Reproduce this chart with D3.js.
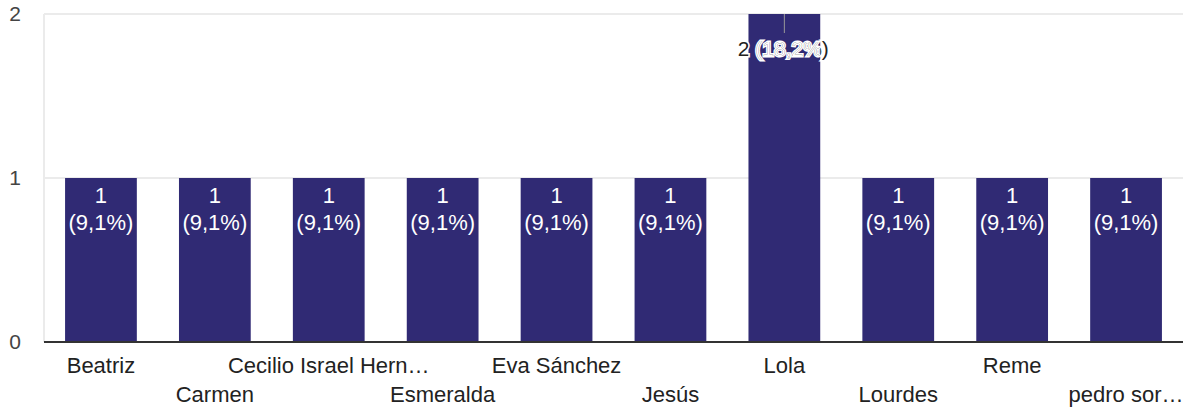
<!DOCTYPE html>
<html>
<head>
<meta charset="utf-8">
<script src="https://cdn.jsdelivr.net/npm/d3@7"></script>
<style>
  body { margin: 0; background: #fff; }
  svg { display: block; font-family: "Liberation Sans", Arial, sans-serif; }
</style>
</head>
<body>
<svg id="chart"></svg>
<script>
const names = ["Beatriz", "Carmen", "Cecilio Israel Hern…", "Esmeralda", "Eva Sánchez",
  "Jesús", "Lola", "Lourdes", "Reme", "pedro sor…"];
const counts = [1, 1, 1, 1, 1, 1, 2, 1, 1, 1];
const percents = ["9,1%", "9,1%", "9,1%", "9,1%", "9,1%", "9,1%", "18,2%", "9,1%", "9,1%", "9,1%"];
const yTicks = [0, 1, 2];

const width = 1187;
const height = 409;
const margin = { top: 14, right: 4, bottom: 67, left: 44 };
const barColor = "#302a74";

const svg = d3.select("#chart").attr("width", width).attr("height", height);

const x = d3.scaleBand()
  .domain(names)
  .range([margin.left, width - margin.right])
  .paddingInner(0.37)
  .paddingOuter(0.185);

const y = d3.scaleLinear()
  .domain([0, 2])
  .range([height - margin.bottom, margin.top]);

// grid
svg.append("g")
  .selectAll("line")
  .data(yTicks.filter(d => d > 0))
  .join("line")
  .attr("x1", margin.left).attr("x2", width - margin.right)
  .attr("y1", d => y(d)).attr("y2", d => y(d))
  .attr("stroke", "#ebebeb").attr("stroke-width", 2);

svg.append("line")
  .attr("x1", margin.left).attr("x2", margin.left)
  .attr("y1", y(2)).attr("y2", y(0))
  .attr("stroke", "#ebebeb").attr("stroke-width", 2);

// y labels
const yAxis = svg.append("g")
  .attr("transform", `translate(${margin.left - 29},0)`)
  .call(d3.axisLeft(y).tickValues(yTicks).tickSize(0).tickPadding(0).tickFormat(d3.format("d")));
yAxis.select(".domain").remove();
yAxis.selectAll("text")
  .attr("text-anchor", "middle")
  .attr("font-size", 21)
  .attr("font-family", "Liberation Sans, Arial, sans-serif")
  .attr("fill", "#444");

// bars
const data = names.map((n, i) => ({ name: n, count: counts[i], pct: percents[i] }));

svg.append("g")
  .selectAll("rect")
  .data(data)
  .join("rect")
  .attr("x", d => x(d.name))
  .attr("y", d => y(d.count))
  .attr("width", x.bandwidth())
  .attr("height", d => y(0) - y(d.count))
  .attr("fill", barColor);

// baseline
svg.append("line")
  .attr("x1", margin.left).attr("x2", width - margin.right)
  .attr("y1", y(0)).attr("y2", y(0))
  .attr("stroke", "#333").attr("stroke-width", 2);

// labels inside the short bars
const inside = svg.append("g").attr("font-size", 22).attr("fill", "#fff").attr("text-anchor", "middle");
data.filter(d => d.count < 2).forEach(d => {
  const cx = x(d.name) + x.bandwidth() / 2;
  const t = inside.append("text").attr("x", cx).attr("y", y(d.count) + 25);
  t.append("tspan").attr("x", cx).text(d.count);
  t.append("tspan").attr("x", cx).attr("dy", 27).text(`(${d.pct})`);
});

// the tall bar: label does not fit, drawn with halo + leader line
data.filter(d => d.count >= 2).forEach(d => {
  const cx = x(d.name) + x.bandwidth() / 2;
  svg.append("line")
    .attr("x1", cx).attr("x2", cx)
    .attr("y1", y(d.count)).attr("y2", y(d.count) + 19)
    .attr("stroke", "#999").attr("stroke-width", 1);
  const label = `${d.count} (${d.pct})`;
  svg.append("text")
    .attr("x", cx - 1).attr("y", y(d.count) + 42)
    .attr("text-anchor", "middle").attr("font-size", 21)
    .attr("fill", "#222").attr("stroke", "#fff").attr("stroke-width", 3)
    .attr("paint-order", "stroke")
    .text(label);
  svg.append("clipPath").attr("id", "barclip")
    .append("rect")
    .attr("x", x(d.name)).attr("y", y(d.count))
    .attr("width", x.bandwidth()).attr("height", y(0) - y(d.count));
  svg.append("text")
    .attr("clip-path", "url(#barclip)")
    .attr("x", cx - 1).attr("y", y(d.count) + 42)
    .attr("text-anchor", "middle").attr("font-size", 21)
    .attr("fill", "#fff")
    .text(label);
});

// x labels, staggered on two rows
svg.append("g")
  .selectAll("text")
  .data(names)
  .join("text")
  .attr("x", d => x(d) + x.bandwidth() / 2)
  .attr("y", (d, i) => i % 2 === 0 ? y(0) + 31 : y(0) + 60)
  .attr("text-anchor", "middle")
  .attr("font-size", 22)
  .attr("fill", "#222")
  .text(d => d);
</script>
</body>
</html>
